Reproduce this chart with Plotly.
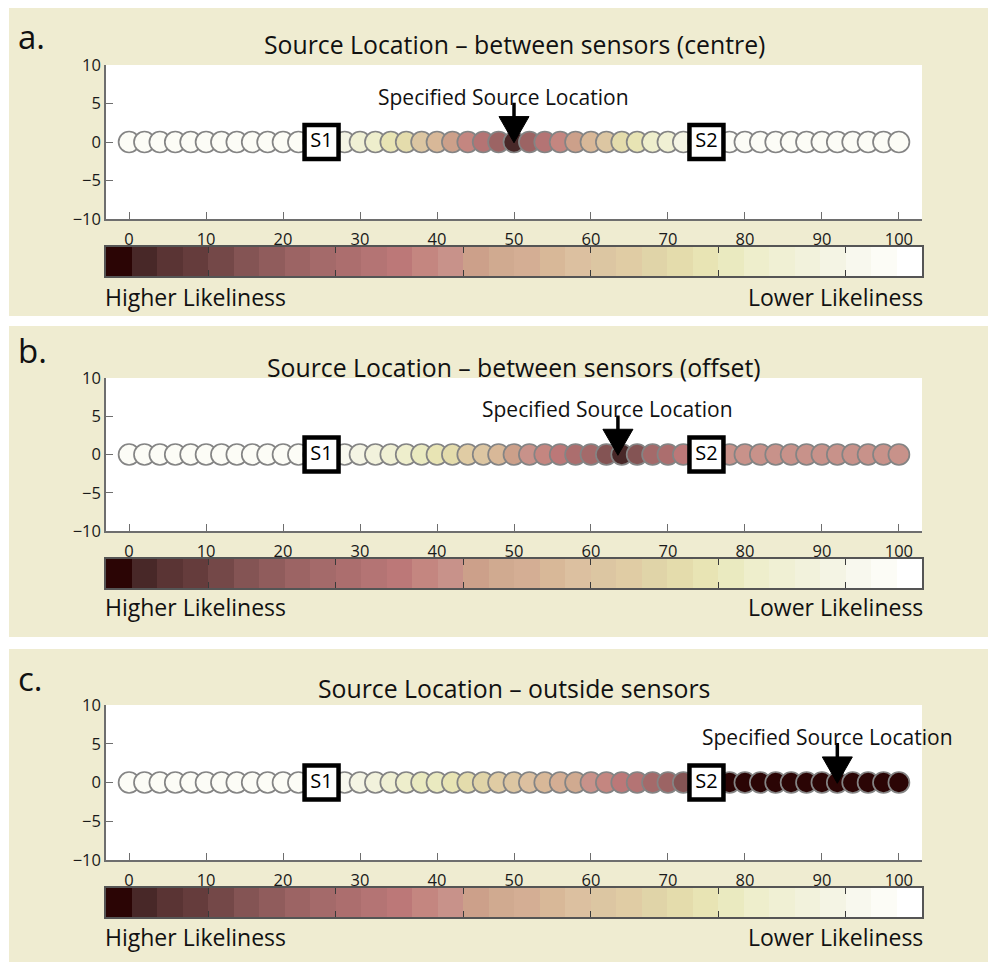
import plotly.graph_objects as go

# ---- data -------------------------------------------------------------
# Candidate source positions along the line (every 2 units)
positions = list(range(0, 101, 2))

# Sensor positions
sensor_names = ["S1", "S2"]
sensor_positions = [25, 75]

# 32-level likeliness colour map (index 0 = highest likeliness)
palette = [
    "#2b0505", "#482828", "#5a3434", "#653c3c", "#744848", "#845454", "#905c5c", "#9c6464",
    "#a46a6a", "#ac6e6e", "#b47474", "#bc7878", "#c48680", "#c8928a", "#cca08a", "#d0aa90",
    "#d4ae94", "#d8b898", "#dcc0a0", "#dcc6a2", "#e0cca4", "#e0d4a8", "#e4dcac", "#e8e4b4",
    "#eaeac0", "#eeeecc", "#f0f0d4", "#f2f2dc", "#f4f4e4", "#f8f8ee", "#fcfcf6", "#ffffff",
]
colorbar_ticks = [3.5, 8.5, 13.5, 18.5, 23.5, 28.5]

panel_letters = ["a.", "b.", "c."]
panel_titles = [
    "Source Location \u2013 between sensors (centre)",
    "Source Location \u2013 between sensors (offset)",
    "Source Location \u2013 outside sensors",
]
source_positions = [50, 63.5, 92]

# likeliness level (palette index) at each candidate position
levels_centre = [30] * 12 + [
    30, 29, 28, 26, 25, 23, 22, 19, 17, 14, 12, 10, 7, 1,
    7, 10, 12, 14, 17, 19, 22, 23, 25, 26, 28, 29, 30,
] + [30] * 12
levels_offset = [30] * 12 + [
    30, 29, 29, 28, 27, 26, 25, 24, 23, 22, 20, 19, 17, 14,
    13, 12, 11, 9, 8, 5, 1, 5, 8, 9, 11, 12, 13,
] + [13] * 12
levels_outside = [30] * 12 + [
    30, 29, 29, 28, 27, 26, 25, 24, 24, 23, 22, 21, 20, 19,
    18, 17, 16, 15, 13, 12, 11, 10, 8, 7, 5, 4, 2,
] + [0] * 12
panel_levels = [levels_centre, levels_offset, levels_outside]

# ---- layout geometry (pixels) -----------------------------------------
W, H = 988, 964
FONT = "Open Sans"
BEIGE = "#efecd1"
AXIS = "#6e6e6e"

def fx(px):
    return px / W

def fy(px):
    return 1 - px / H

geom = [
    dict(bg=(8, 316), letter=37, title=44, plot=(65, 219), cbar=(247, 276), label=297),
    dict(bg=(326, 637), letter=350, title=367, plot=(378, 531), cbar=(559, 588), label=607),
    dict(bg=(649, 962), letter=678, title=688, plot=(705, 860), cbar=(888, 917), label=937),
]
PX0, PX1 = 106, 922

fig = go.Figure()
shapes = []
annotations = []
layout_axes = {}

for i in range(3):
    g = geom[i]
    n_plot = 2 * i + 1
    n_cbar = 2 * i + 2
    xc, yc = f"x{n_cbar}", f"y{n_cbar}"
    xa_key = "xaxis" if n_plot == 1 else f"xaxis{n_plot}"
    ya_key = "yaxis" if n_plot == 1 else f"yaxis{n_plot}"
    xa_ref = "x" if n_plot == 1 else f"x{n_plot}"
    ya_ref = "y" if n_plot == 1 else f"y{n_plot}"

    # panel background
    shapes.append(dict(type="rect", xref="paper", yref="paper",
                       x0=fx(9), x1=1.0, y0=fy(g["bg"][1]), y1=fy(g["bg"][0]),
                       fillcolor=BEIGE, line_width=0, layer="below"))
    # white plotting area
    shapes.append(dict(type="rect", xref=f"{xa_ref} domain", yref=f"{ya_ref} domain",
                       x0=0, x1=1, y0=0, y1=1, fillcolor="white", line_width=0,
                       layer="below"))

    # candidate source locations
    levels = panel_levels[i]
    fig.add_trace(go.Scatter(
        x=positions, y=[0] * len(positions), mode="markers",
        marker=dict(size=21, color=[palette[l] for l in levels],
                    line=dict(color="#848484", width=1.7)),
        xaxis=xa_ref, yaxis=ya_ref, showlegend=False, hoverinfo="x",
    ))
    # sensors
    fig.add_trace(go.Scatter(
        x=sensor_positions, y=[0, 0], mode="markers+text", text=sensor_names,
        textposition="middle center",
        textfont=dict(family=FONT, size=20, color="black"),
        marker=dict(symbol="square", size=34, color="white",
                    line=dict(color="black", width=4.5)),
        xaxis=xa_ref, yaxis=ya_ref, showlegend=False, hoverinfo="text",
    ))

    # arrow to the specified source
    s = source_positions[i]
    shapes.append(dict(type="line", xref=xa_ref, yref=ya_ref, x0=s, x1=s, y0=3.0, y1=5.1,
                       line=dict(color="black", width=3.5)))
    shapes.append(dict(type="path", xref=xa_ref, yref=ya_ref,
                       path=f"M {s-1.95},3.3 L {s+1.95},3.3 L {s},-0.1 Z",
                       fillcolor="black", line=dict(color="black", width=1)))
    annotations.append(dict(xref=xa_ref, yref=ya_ref, x=s - 1.3, y=5.9,
                            text="Specified Source Location", showarrow=False,
                            font=dict(family=FONT, size=21, color="#111")))

    # colour bar
    fig.add_trace(go.Bar(
        x=list(range(len(palette))), y=[1] * len(palette), width=1,
        marker=dict(color=palette, line=dict(width=0)),
        xaxis=xc, yaxis=yc, showlegend=False, hoverinfo="skip",
    ))

    layout_axes[xa_key] = dict(
        domain=[fx(PX0), fx(PX1)], anchor=ya_ref, range=[-3, 103], automargin=False,
        tickvals=list(range(0, 101, 10)), ticks="inside", ticklen=7, tickwidth=1.3,
        tickcolor=AXIS, showline=True, linecolor=AXIS, linewidth=1.5,
        showgrid=False, zeroline=False, ticklabelstandoff=4,
        tickfont=dict(family=FONT, size=16.5, color="#1a1a1a"),
    )
    layout_axes[ya_key] = dict(
        domain=[fy(g["plot"][1]), fy(g["plot"][0])], anchor=xa_ref, range=[-10, 10],
        automargin=False,
        tickvals=[-10, -5, 0, 5, 10], ticks="inside", ticklen=7, tickwidth=1.3,
        tickcolor=AXIS, showline=True, linecolor=AXIS, linewidth=1.5,
        showgrid=False, zeroline=False,
        tickfont=dict(family=FONT, size=16.5, color="#1a1a1a"),
    )
    layout_axes[f"xaxis{n_cbar}"] = dict(
        domain=[fx(PX0), fx(PX1)], anchor=yc, range=[-0.5, len(palette) - 0.5],
        automargin=False,
        tickvals=colorbar_ticks, ticks="inside", ticklen=6, tickwidth=1.3,
        tickcolor="#3a3a3a", showticklabels=False, showline=True, mirror="ticks",
        linecolor="#555", linewidth=1.5, showgrid=False, zeroline=False,
    )
    layout_axes[f"yaxis{n_cbar}"] = dict(
        domain=[fy(g["cbar"][1]), fy(g["cbar"][0])], anchor=xc, range=[0, 1],
        automargin=False,
        showticklabels=False, ticks="", showline=True, mirror=True,
        linecolor="#555", linewidth=1.5, showgrid=False, zeroline=False,
    )

    # panel letter, title, colour-bar captions
    annotations.append(dict(xref="paper", yref="paper", x=fx(16), y=fy(g["letter"]),
                            xanchor="left", yanchor="middle", text=panel_letters[i],
                            showarrow=False, font=dict(family=FONT, size=33, color="#111")))
    annotations.append(dict(xref="paper", yref="paper", x=fx((PX0 + PX1) / 2), y=fy(g["title"]),
                            xanchor="center", yanchor="middle", text=panel_titles[i],
                            showarrow=False, font=dict(family=FONT, size=24.8, color="#111")))
    annotations.append(dict(xref="paper", yref="paper", x=fx(PX0 - 3), y=fy(g["label"]),
                            xanchor="left", yanchor="middle", text="Higher Likeliness",
                            showarrow=False, font=dict(family=FONT, size=23, color="#111")))
    annotations.append(dict(xref="paper", yref="paper", x=fx(PX1 + 3), y=fy(g["label"]),
                            xanchor="right", yanchor="middle", text="Lower Likeliness",
                            showarrow=False, font=dict(family=FONT, size=23, color="#111")))

fig.update_layout(
    width=W, height=H, margin=dict(l=0, r=0, t=0, b=0, pad=0, autoexpand=False),
    paper_bgcolor="white", plot_bgcolor="rgba(0,0,0,0)",
    bargap=0, showlegend=False, shapes=shapes, annotations=annotations,
    font=dict(family=FONT),
    **layout_axes,
)

fig.write_html("out.html", config={"displayModeBar": False})
